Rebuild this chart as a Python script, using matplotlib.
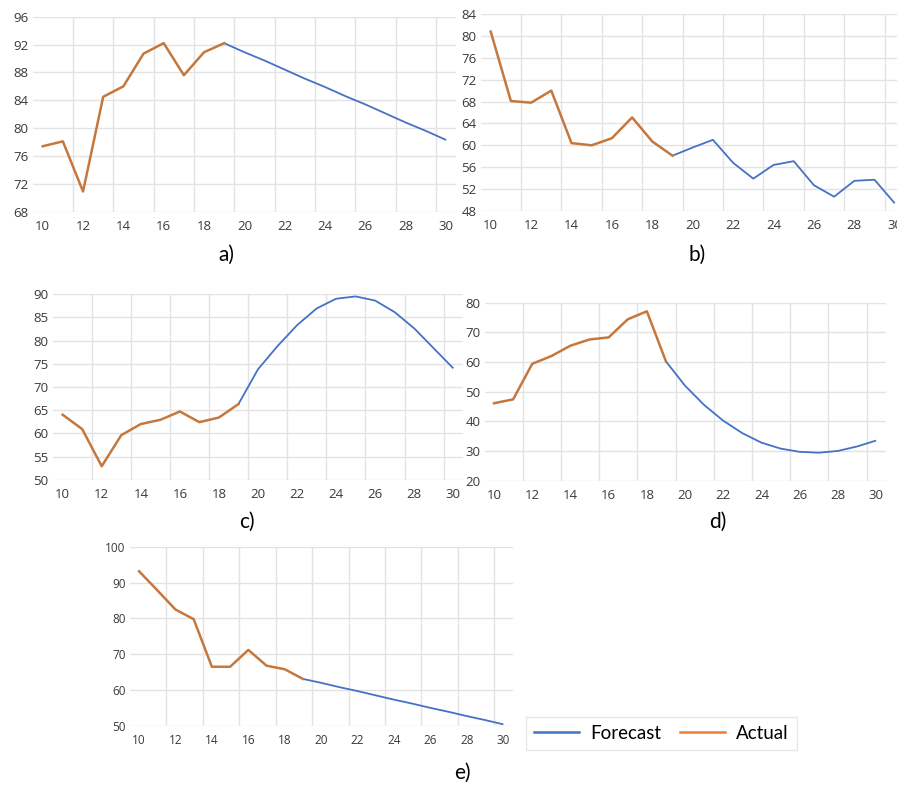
import matplotlib.pyplot as plt
import numpy as np
from matplotlib.lines import Line2D

plt.rcParams['font.family'] = ['Lato', 'DejaVu Sans']

FORECAST_COLOR = '#4472C4'
ACTUAL_COLOR = '#C5783E'
LEGEND_ACTUAL = '#ED7D31'
GRID_COLOR = '#E3E3E3'
TEXT_COLOR = '#3A3A3A'

x_values = list(range(10, 31))

# panel a
a_actual = [77.4, 78.1, 70.9, 84.5, 86.0, 90.7, 92.2, 87.6, 90.9, 92.2]
a_forecast = [92.2, 90.9, 89.7, 88.4, 87.1, 85.9, 84.6, 83.4, 82.1, 80.8, 79.6, 78.3]
a_ticks = [68, 72, 76, 80, 84, 88, 92, 96]

# panel b
b_actual = [80.8, 68.1, 67.8, 70.0, 60.4, 60.0, 61.3, 65.1, 60.7, 58.1]
b_forecast = [58.1, 59.6, 61.0, 56.8, 53.9, 56.4, 57.1, 52.7, 50.6, 53.5, 53.7, 49.4]
b_ticks = [48, 52, 56, 60, 64, 68, 72, 76, 80, 84]

# panel c
c_actual = [64.0, 60.9, 52.9, 59.6, 62.0, 62.9, 64.7, 62.4, 63.4, 66.3]
c_forecast = [66.3, 73.8, 78.8, 83.3, 86.9, 89.0, 89.5, 88.6, 86.1, 82.6, 78.3, 74.0]
c_ticks = [50, 55, 60, 65, 70, 75, 80, 85, 90]

# panel d
d_actual = [46.1, 47.4, 59.4, 62.0, 65.5, 67.6, 68.3, 74.4, 77.1, 60.2]
d_forecast = [60.2, 52.0, 45.5, 40.2, 36.0, 32.8, 30.8, 29.7, 29.4, 30.0, 31.5, 33.5]
d_ticks = [20, 30, 40, 50, 60, 70, 80]

# panel e
e_actual = [93.2, 87.9, 82.5, 79.8, 66.5, 66.5, 71.2, 66.8, 65.8, 63.1]
e_forecast = [63.1, 62.0, 60.8, 59.7, 58.5, 57.3, 56.2, 55.0, 53.9, 52.7, 51.6, 50.4]
e_ticks = [50, 60, 70, 80, 90, 100]

panel_names = ['a)', 'b)', 'c)', 'd)', 'e)']

W, H = 897, 785
# plot areas in pixels: left, top, right, bottom
boxes = [
    (32.6, 16.7, 456.2, 211.7),
    (480.6, 14.1, 904.8, 210.9),
    (52.9, 294.1, 463.1, 479.7),
    (484.5, 302.7, 885.6, 480.6),
    (129.9, 546.9, 512.5, 725.8),
]
title_pos = [(226, 255), (697, 255), (247, 522), (718, 522), (462, 773)]
tick_sizes = [9.5, 9.5, 9.5, 9.5, 8.5]

panels = [
    (a_actual, a_forecast, a_ticks),
    (b_actual, b_forecast, b_ticks),
    (c_actual, c_forecast, c_ticks),
    (d_actual, d_forecast, d_ticks),
    (e_actual, e_forecast, e_ticks),
]

fig = plt.figure(figsize=(W / 100, H / 100), dpi=100)

for (actual, forecast, ticks), (l, t, r, b), name, (tx, ty), ts in zip(
        panels, boxes, panel_names, title_pos, tick_sizes):
    ax = fig.add_axes([l / W, 1 - b / H, (r - l) / W, (b - t) / H])
    x_act = x_values[:len(actual)]
    x_fc = x_values[len(actual) - 1:]
    ax.plot(x_fc, forecast, color=FORECAST_COLOR, lw=1.3, solid_capstyle='butt')
    ax.plot(x_act, actual, color=ACTUAL_COLOR, lw=1.8)

    ax.set_xlim(9.5, 30.5)
    ax.set_ylim(ticks[0], ticks[-1])
    ax.set_xticks(x_values[::2])
    ax.set_yticks(ticks)
    for g in np.arange(11.5, 30, 2):
        ax.axvline(g, color=GRID_COLOR, lw=1.0, zorder=0)
    for yv in ticks:
        ax.axhline(yv, color=GRID_COLOR, lw=1.0, zorder=0)
    for side in ax.spines.values():
        side.set_visible(False)
    ax.tick_params(length=0, labelsize=ts, labelcolor=TEXT_COLOR, pad=3)
    ax.tick_params(axis='x', pad=6)
    for lab in ax.get_xticklabels() + ax.get_yticklabels():
        lab.set_family(['Open Sans', 'DejaVu Sans'])
    fig.text(tx / W, 1 - ty / H, name, ha='center', va='center',
             fontsize=15, color='black')

handles = [
    Line2D([], [], color=FORECAST_COLOR, lw=1.8),
    Line2D([], [], color=LEGEND_ACTUAL, lw=1.8),
]
fig.legend(handles, ['Forecast', 'Actual'], loc='center',
           bbox_to_anchor=(661.5 / W, 1 - 733.5 / H), ncol=2, fontsize=13.5,
           frameon=True, fancybox=False, edgecolor='#E0E0E0',
           handlelength=2.4, columnspacing=1.0, handletextpad=0.6,
           borderpad=0.45)

fig.savefig('out.png', dpi=100)
